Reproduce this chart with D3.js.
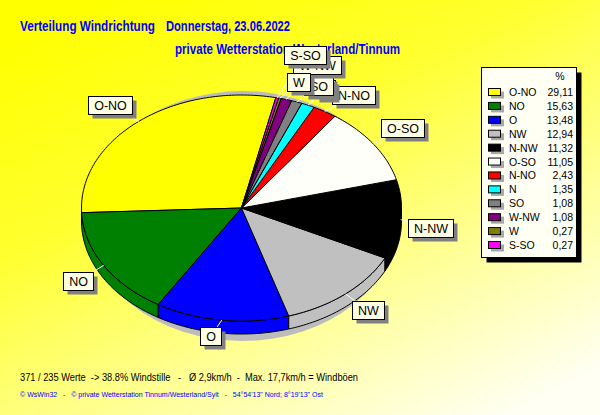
<!DOCTYPE html>
<html><head><meta charset="utf-8">
<script src="https://cdn.jsdelivr.net/npm/d3@7/dist/d3.min.js"></script>
<style>
html,body{margin:0;padding:0;background:#fff;}
svg{display:block;}
text{font-family:"Liberation Sans",Arial,sans-serif;white-space:pre;}
</style></head>
<body>
<script>
// ---- data ----
const categories = ["O-NO","NO","O","NW","N-NW","O-SO","N-NO","N","SO","W-NW","W","S-SO"];
const values     = [29.11, 15.63, 13.48, 12.94, 11.32, 11.05, 2.43, 1.35, 1.08, 1.08, 0.27, 0.27];
const palette    = ["#ffff00","#008000","#0000ff","#c0c0c0","#000000","#fffffa","#ff0000","#00ffff","#808080","#800080","#808000","#ff00ff"];
const titleLeft  = "Verteilung Windrichtung";
const titleDate  = "Donnerstag, 23.06.2022";
const subTitle   = "private Wetterstation Westerland/Tinnum";
const footer1    = "371 / 235 Werte  -> 38.8% Windstille   -   Ø 2,9km/h  -  Max. 17,7km/h = Windböen";
const footer2    = "© WsWin32   -   © private Wetterstation Tinnum/Westerland/Sylt   -   54°54'13\" Nord; 8°19'13\" Ost";
const legendHeader = "%";

// ---- layout ----
const W = 600, H = 415;
const cx = 241.5, cy = 208, rx = 160, ry = 113, depth = 13;
const startA = 12.4 * Math.PI / 180;
const labelLift = {"W-NW": -19, "S-SO": -27};

const de = d3.formatLocale({decimal: ",", thousands: ".", grouping: [3], currency: ["", ""]});
const fmt = de.format(".2f");

const svg = d3.select("body").append("svg").attr("width", W).attr("height", H);
const defs = svg.append("defs");
const grad = defs.append("linearGradient").attr("id", "bg")
  .attr("x1", "0.15").attr("y1", "0").attr("x2", "0.85").attr("y2", "1");
grad.append("stop").attr("offset", "0").attr("stop-color", "#ffff00");
grad.append("stop").attr("offset", "0.35").attr("stop-color", "#ffff30");
grad.append("stop").attr("offset", "1").attr("stop-color", "#fffff4");
svg.append("rect").attr("width", W).attr("height", H).attr("fill", "url(#bg)");

// titles
svg.append("text").attr("x", 20).attr("y", 30.5).attr("fill", "#0000ff").attr("font-weight", "bold")
  .attr("font-size", 14).attr("textLength", 135).attr("lengthAdjust", "spacingAndGlyphs").text(titleLeft);
svg.append("text").attr("x", 166).attr("y", 30.5).attr("fill", "#0000ff").attr("font-weight", "bold")
  .attr("font-size", 14).attr("textLength", 124).attr("lengthAdjust", "spacingAndGlyphs").text(titleDate);
svg.append("text").attr("x", 175).attr("y", 54).attr("fill", "#0000ff").attr("font-weight", "bold")
  .attr("font-size", 14).attr("textLength", 225).attr("lengthAdjust", "spacingAndGlyphs").text(subTitle);

// scales for the ellipse
const sx = d3.scaleLinear().domain([-1, 1]).range([cx - rx, cx + rx]);
const sy = d3.scaleLinear().domain([-1, 1]).range([cy - ry, cy + ry]);
const pt = (a, dy = 0) => [sx(Math.sin(a)), sy(-Math.cos(a)) + dy];

const pie = d3.pie().sort(null).value(d => d).startAngle(startA).endAngle(startA - 2 * Math.PI);
const arcs = pie(values);
const line = d3.line();

function arcPts(a0, a1, dy) {
  const n = Math.max(2, Math.ceil(Math.abs(a1 - a0) / 0.02));
  const out = [];
  for (let i = 0; i <= n; i++) out.push(pt(a0 + (a1 - a0) * i / n, dy));
  return out;
}

const pieG = svg.append("g");
// shadow
pieG.append("ellipse").attr("cx", cx + 1).attr("cy", cy + 8).attr("rx", 157).attr("ry", 125).attr("fill", "#bcbcbc");

// side walls (front half)
const sideG = pieG.append("g");
arcs.forEach((d, i) => {
  const lo = Math.min(d.startAngle, d.endAngle), hi = Math.max(d.startAngle, d.endAngle);
  for (let k = -2; k <= 1; k++) {
    const f0 = Math.PI / 2 + 2 * Math.PI * k, f1 = 3 * Math.PI / 2 + 2 * Math.PI * k;
    const a = Math.max(lo, f0), b = Math.min(hi, f1);
    if (b > a) {
      const top = arcPts(a, b, 0), bot = arcPts(b, a, depth);
      sideG.append("path").attr("d", line(top.concat(bot)) + "Z")
        .attr("fill", palette[i]).attr("stroke", "#000").attr("stroke-width", 1).attr("stroke-linejoin", "round");
    }
  }
});

// top slices
const topG = pieG.append("g");
arcs.forEach((d, i) => {
  const pts = [[cx, cy]].concat(arcPts(d.startAngle, d.endAngle, 0));
  topG.append("path").attr("d", line(pts) + "Z")
    .attr("fill", palette[i]).attr("stroke", "#000").attr("stroke-width", 1).attr("stroke-linejoin", "round");
});

// labels
const labG = svg.append("g");
const clamp = v => Math.max(-1, Math.min(1, v));
const boxes = [];
arcs.forEach((d, i) => {
  const mid = (d.startAngle + d.endAngle) / 2;
  const dx = Math.sin(mid), dyy = -Math.cos(mid);
  const e = pt(mid);
  const tmp = labG.append("text").attr("font-size", 12.5).text(categories[i]);
  const tw = tmp.node().getComputedTextLength();
  tmp.remove();
  const bw = Math.round(tw + 11), bh = 18;
  const ccx = e[0] + clamp(dx * 5) * (bw / 2 + 7) - (dx < -0.8 ? 4 : 0);
  const ccy = e[1] + clamp(dyy * 5) * (bh / 2 + 7) + (labelLift[categories[i]] || 0);
  boxes.push({i, e, ccx, ccy, bw, bh});
});
boxes.forEach(b => {
  labG.append("line").attr("x1", b.e[0]).attr("y1", b.e[1]).attr("x2", b.ccx).attr("y2", b.ccy)
    .attr("stroke", "#ffffff").attr("stroke-width", 1);
});
boxes.forEach(b => {
  const x0 = Math.round(b.ccx - b.bw / 2) + 0.5, y0 = Math.round(b.ccy - b.bh / 2) + 0.5;
  const g = labG.append("g");
  g.append("rect").attr("x", x0 + 4).attr("y", y0 + 4).attr("width", b.bw).attr("height", b.bh).attr("fill", "#808080");
  g.append("rect").attr("x", x0).attr("y", y0).attr("width", b.bw).attr("height", b.bh)
    .attr("fill", "#ffffe6").attr("stroke", "#000").attr("stroke-width", 1);
  g.append("text").attr("x", x0 + b.bw / 2).attr("y", y0 + b.bh / 2 + 4.5).attr("text-anchor", "middle")
    .attr("font-size", 12.5).attr("fill", "#000").text(categories[b.i]);
});

// legend
const lg = svg.append("g");
const lx = 481.5, ly = 67.5, lw = 95, lh = 190;
lg.append("rect").attr("x", lx + 5).attr("y", ly + 5).attr("width", lw).attr("height", lh).attr("fill", "#000");
lg.append("rect").attr("x", lx).attr("y", ly).attr("width", lw).attr("height", lh)
  .attr("fill", "#fffff4").attr("stroke", "#000").attr("stroke-width", 1);
lg.append("text").attr("x", 560).attr("y", 79.5).attr("text-anchor", "middle").attr("font-size", 10.5).text(legendHeader);
const rowY = d3.scaleLinear().domain([0, categories.length - 1]).range([96, 249]);
categories.forEach((c, i) => {
  const by = rowY(i);
  lg.append("rect").attr("x", 491).attr("y", by - 4.5).attr("width", 13).attr("height", 7).attr("fill", "#a8a8a8");
  lg.append("rect").attr("x", 488.5).attr("y", by - 7.5).attr("width", 12).attr("height", 7)
    .attr("fill", palette[i]).attr("stroke", "#000").attr("stroke-width", 1);
  lg.append("text").attr("x", 509).attr("y", by).attr("font-size", 10.5).text(c);
  lg.append("text").attr("x", 573).attr("y", by).attr("text-anchor", "end").attr("font-size", 10.5).text(fmt(values[i]));
});

// footers
svg.append("text").attr("x", 20).attr("y", 381).attr("font-size", 11).attr("fill", "#000")
  .attr("textLength", 338).attr("lengthAdjust", "spacingAndGlyphs").text(footer1);
svg.append("text").attr("x", 20).attr("y", 397).attr("font-size", 8).attr("fill", "#0000ff")
  .attr("textLength", 303).attr("lengthAdjust", "spacingAndGlyphs").text(footer2);
</script>
</body></html>
